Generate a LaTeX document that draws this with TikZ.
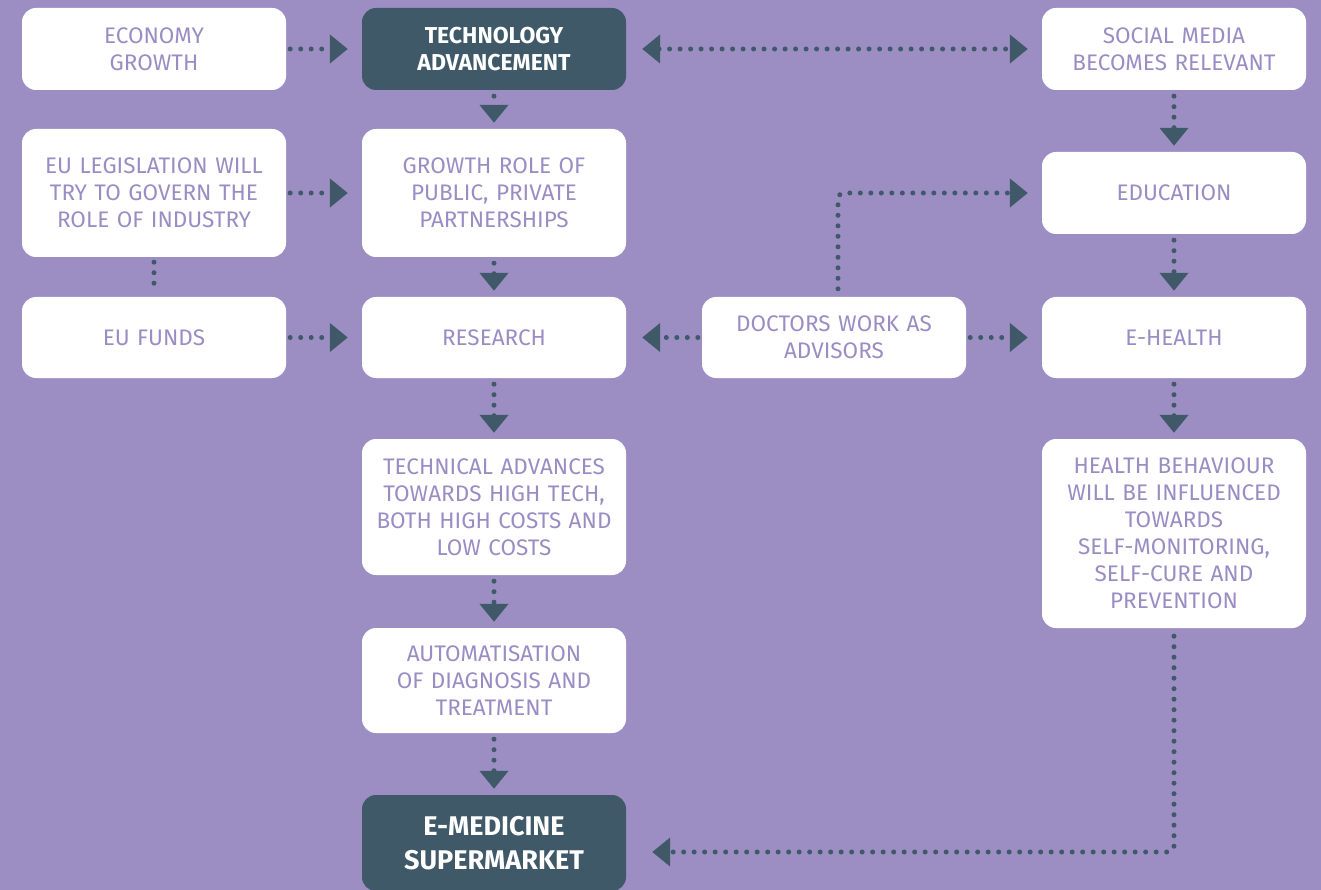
\documentclass[tikz,border=0pt]{standalone}
\usepackage{fontspec}
\setmainfont{Fira Sans}
\usetikzlibrary{arrows.meta}
\definecolor{bgc}{HTML}{9C8EC3}
\definecolor{dark}{HTML}{3F5968}
\definecolor{ptext}{HTML}{9A8DC4}
\tikzset{
  wbox/.style={fill=white, rounded corners=14pt, minimum width=264pt, text width=256pt, align=center, text=ptext, font=\fontsize{22.5}{27}\selectfont, inner sep=0pt},
  dbox/.style={fill=dark, rounded corners=14pt, minimum width=264pt, text width=256pt, align=center, text=white, font=\fontsize{23}{27}\selectfont\bfseries, inner sep=0pt},
  arr/.style={draw=dark, line width=5pt, line cap=round, dash pattern=on 0pt off 10.5pt, -{Triangle[length=18pt,width=28pt]}},
  arrb/.style={draw=dark, line width=5pt, line cap=round, dash pattern=on 0pt off 10.5pt, {Triangle[length=18pt,width=28pt]}-{Triangle[length=18pt,width=28pt]}},
  dln/.style={draw=dark, line width=5pt, line cap=round, dash pattern=on 0pt off 10.5pt},
}
\begin{document}
\begin{tikzpicture}[x=1pt,y=-1pt]
\fill[bgc] (0,0) rectangle (1321,890);
\useasboundingbox (0,0) rectangle (1321,890);

\node[wbox, minimum height=82pt] (eco) at (154,49) {ECONOMY\\GROWTH};
\node[dbox, minimum height=82pt] (tech) at (494,49) {TECHNOLOGY\\ADVANCEMENT};
\node[wbox, minimum height=82pt] (soc) at (1174,49) {SOCIAL MEDIA\\BECOMES RELEVANT};

\node[wbox, minimum height=128pt] (leg) at (154,193) {EU LEGISLATION WILL\\TRY TO GOVERN THE\\ROLE OF INDUSTRY};
\node[wbox, minimum height=128pt] (grow) at (494,193) {GROWTH ROLE OF\\PUBLIC, PRIVATE\\PARTNERSHIPS};
\node[wbox, minimum height=82pt] (edu) at (1174,193) {EDUCATION};

\node[wbox, minimum height=81pt] (fund) at (154,337.5) {EU FUNDS};
\node[wbox, minimum height=81pt] (res) at (494,337.5) {RESEARCH};
\node[wbox, minimum height=81pt] (doc) at (834,337.5) {DOCTORS WORK AS\\ADVISORS};
\node[wbox, minimum height=81pt] (eh) at (1174,337.5) {E-HEALTH};

\node[wbox, minimum height=136pt] (techadv) at (494,507) {TECHNICAL ADVANCES\\TOWARDS HIGH TECH,\\BOTH HIGH COSTS AND\\LOW COSTS};
\node[wbox, minimum height=189pt] (hb) at (1174,533.5) {HEALTH BEHAVIOUR\\WILL BE INFLUENCED\\TOWARDS\\SELF-MONITORING,\\SELF-CURE AND\\PREVENTION};
\node[wbox, minimum height=105pt] (auto) at (494,680.5) {AUTOMATISATION\\OF DIAGNOSIS AND\\TREATMENT};
\node[dbox, minimum height=96pt, font=\fontsize{27}{34}\selectfont\bfseries] (emed) at (494,843) {E-MEDICINE\\SUPERMARKET};

% horizontal arrows
\draw[arr, shorten <=4pt, shorten >=14pt] (eco) -- (tech);
\draw[arr, shorten <=4pt, shorten >=14pt] (leg) -- (grow);
\draw[arr, shorten <=4pt, shorten >=14pt] (fund) -- (res);
\draw[arrb, shorten <=16pt, shorten >=14pt] (tech) -- (soc);
\draw[arr, shorten <=4pt, shorten >=16pt] (doc) -- (res);
\draw[arr, shorten <=4pt, shorten >=14pt] (doc) -- (eh);

% vertical arrows
\draw[arr, shorten <=6pt, shorten >=6pt] (tech) -- (grow);
\draw[arr, shorten <=6pt, shorten >=6pt] (grow) -- (res);
\draw[arr, shorten <=6pt, shorten >=6pt] (res) -- (techadv);
\draw[arr, shorten <=6pt, shorten >=6pt] (techadv) -- (auto);
\draw[arr, shorten <=6pt, shorten >=6pt] (auto) -- (emed);
\draw[arr, shorten <=6pt, shorten >=6pt] (soc) -- (edu);
\draw[arr, shorten <=6pt, shorten >=6pt] (edu) -- (eh);
\draw[arr, shorten <=6pt, shorten >=6pt] (eh) -- (hb);

% plain link
\draw[dln, shorten <=5pt, shorten >=5pt] (leg) -- (fund);

% elbow arrows
\draw[arr, rounded corners=6pt, shorten <=8pt, shorten >=14pt] ([xshift=4pt]doc.north) |- (edu.west);
\draw[arr, rounded corners=6pt, shorten <=8pt, shorten >=26pt] (hb.south) |- ([yshift=-9pt]emed.east);
\end{tikzpicture}
\end{document}
